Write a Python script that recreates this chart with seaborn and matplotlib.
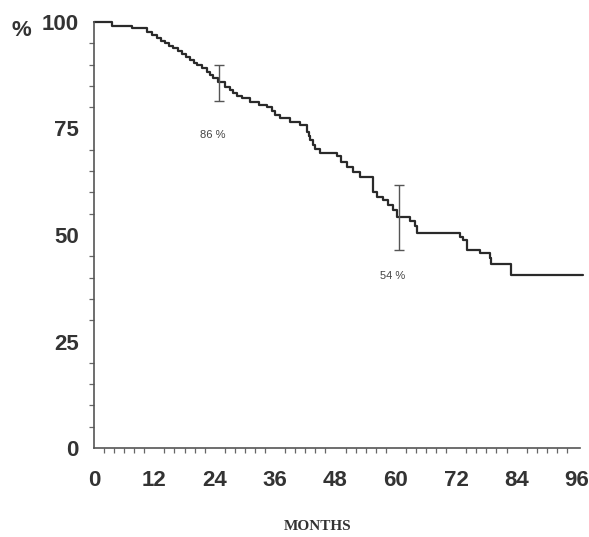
import matplotlib
matplotlib.use("Agg")
import matplotlib.pyplot as plt
from matplotlib.ticker import MultipleLocator
import seaborn as sns
import pandas as pd

# Kaplan-Meier style step data (months, survival %)
months = [0, 3.6, 7.5, 10.5, 11.5, 12.5, 13.3, 14.1, 15, 15.8, 16.6, 17.4, 18.2,
          19.1, 19.8, 20.4, 21.4, 22.4, 23, 23.7, 24.7, 26, 27, 27.7, 28.5, 29.4,
          31, 32.7, 34.3, 35.3, 36, 37, 39, 41, 42.3, 42.7, 43, 43.5, 44, 45,
          48.3, 49, 50.3, 51.5, 52.9, 55.5, 56.2, 57.5, 58.5, 59.5, 60.2, 62.8,
          63.8, 64.2, 72.8, 73.4, 74.1, 76.7, 78.7, 79, 82.8, 97.2]
survival = [100, 99, 98.5, 97.7, 97, 96.2, 95.6, 95, 94.4, 93.8, 93.2, 92.6, 91.8,
            91, 90.4, 89.9, 89.1, 88.3, 87.5, 86.8, 86, 84.8, 84, 83.3, 82.7, 82.1,
            81.3, 80.5, 80.1, 79, 78.2, 77.4, 76.6, 75.8, 74.2, 73.2, 72.2, 71.2, 70.3, 69.3,
            68.5, 67.2, 66, 64.9, 63.7, 60, 59, 58.2, 57, 55.9, 54.3, 53.2,
            52, 50.4, 49.5, 48.8, 46.5, 45.7, 44.5, 43.3, 40.6, 40.6]

# Confidence interval markers
ci_months = [24.8, 60.6]
ci_est = [86, 54]
ci_low = [81.5, 46.5]
ci_high = [89.8, 61.8]
ci_labels = ["86 %", "54 %"]
ci_label_pos = [(23.6, 73.5), (59.3, 40.3)]

x_ticks = [0, 12, 24, 36, 48, 60, 72, 84, 96]
y_ticks = [0, 25, 50, 75, 100]

sns.set_style("white")
plt.rcParams['font.family'] = ['Liberation Sans Narrow', 'Liberation Sans', 'DejaVu Sans']

fig = plt.figure(figsize=(5.89, 5.37), dpi=100)
ax = fig.add_axes([94/589, (537-448)/537, (580-94)/589, (448-22)/537])

df = pd.DataFrame({"months": months, "survival": survival})
sns.lineplot(data=df, x="months", y="survival", drawstyle="steps-post",
             color="#2a2a2a", linewidth=1.6, ax=ax, clip_on=False, sort=False)

err_lo = [e - l for e, l in zip(ci_est, ci_low)]
err_hi = [h - e for e, h in zip(ci_est, ci_high)]
ax.errorbar(ci_months, ci_est, yerr=[err_lo, err_hi], fmt="none",
            ecolor="#555555", elinewidth=1.0, capsize=3.5, capthick=1.0)
for lab, (px, py) in zip(ci_labels, ci_label_pos):
    ax.text(px, py, lab, fontsize=8, color="#444444", ha="center", va="center",
            family=["Liberation Sans", "DejaVu Sans"])

ax.set_xlim(0, 96.6)
ax.set_ylim(0, 100)
ax.set_xticks(x_ticks)
ax.set_yticks(y_ticks)
ax.xaxis.set_minor_locator(MultipleLocator(2))
ax.yaxis.set_minor_locator(MultipleLocator(5))

for side in ["top", "right"]:
    ax.spines[side].set_visible(False)
for side in ["left", "bottom"]:
    ax.spines[side].set_color("#555555")
    ax.spines[side].set_linewidth(1.2)

ax.tick_params(which="major", direction="out", length=6, width=1.1, color="#555555")
ax.tick_params(which="minor", direction="out", length=3.5, width=0.9, color="#666666")
ax.tick_params(axis="x", which="major", pad=10)
ax.tick_params(axis="y", which="major", pad=5)
ax.tick_params(axis="x", which="minor", bottom=True)
ax.tick_params(axis="y", which="minor", left=True)
for lab in ax.get_xticklabels() + ax.get_yticklabels():
    lab.set_fontsize(16)
    lab.set_fontweight("bold")
    lab.set_color("#333333")

ax.set_xlabel("")
ax.set_ylabel("")
fig.text(21/589, 1 - 30/537, "%", fontsize=16, fontweight="bold", color="#333333",
         ha="center", va="center")
fig.text(318/589, 1 - 527/537, "MONTHS", fontsize=11, fontweight="bold", color="#333333",
         ha="center", va="center", family=["Liberation Serif", "DejaVu Serif"])

fig.savefig("out.png", dpi=100, facecolor="white")
